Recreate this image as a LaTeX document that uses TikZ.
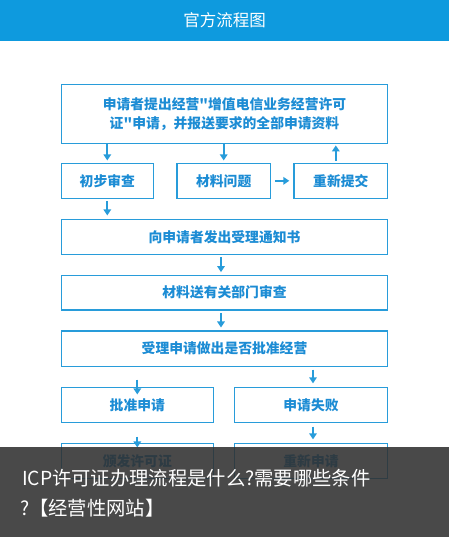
\documentclass[tikz,border=0pt]{standalone}
\usepackage{fontspec}
\setmainfont[Ligatures=TeXOff]{Noto Sans CJK SC}
\usetikzlibrary{arrows.meta}
\definecolor{hdr}{RGB}{14,154,222}
\definecolor{bx}{RGB}{40,156,218}
\definecolor{tx}{RGB}{28,140,212}
\definecolor{ov}{RGB}{48,48,48}
\begin{document}
\begin{tikzpicture}[x=1pt,y=-1pt,
 box/.style={draw=bx,line width=1.2pt,inner sep=0pt,text=tx,font=\fontsize{13.8}{19}\selectfont\bfseries,align=center},
 arr/.style={draw=bx,line width=1.8pt,-{Triangle[length=6pt,width=7.5pt]}},
 ovtext/.style={anchor=west,text=white,inner sep=0pt,font=\fontsize{19.3}{22}\selectfont}
]
\useasboundingbox (0,0) rectangle (449,537);
\fill[hdr] (0,0) rectangle (449,41);
\node[text=white,font=\fontsize{16.5}{20}\selectfont] (title) at (224.5,20) {官方流程图};

\node[box,minimum width=326.4pt,minimum height=59pt] (b1) at (224.5,113.8) {申请者提出经营"增值电信业务经营许可\\证"申请，并报送要求的全部申请资料};
\node[box,minimum width=92pt,minimum height=35pt] (a) at (107.3,180.8) {初步审查};
\node[box,minimum width=93.3pt,minimum height=35pt] (b) at (223.7,180.8) {材料问题};
\node[box,minimum width=93.7pt,minimum height=35pt] (c) at (340.8,180.8) {重新提交};
\node[box,minimum width=326.4pt,minimum height=35pt] (b3) at (224.5,236.8) {向申请者发出受理通知书};
\node[box,minimum width=326.4pt,minimum height=34.7pt] (b4) at (224.5,292.7) {材料送有关部门审查};
\node[box,minimum width=326.4pt,minimum height=35.3pt] (b5) at (224.5,348.7) {受理申请做出是否批准经营};
\node[box,minimum width=152pt,minimum height=35pt] (b6L) at (137.3,404.8) {批准申请};
\node[box,minimum width=153.4pt,minimum height=35pt] (b6R) at (311,404.8) {申请失败};
\node[box,minimum width=152pt,minimum height=35.4pt] (b7L) at (137.3,461) {颁发许可证};
\node[box,minimum width=153.4pt,minimum height=35.4pt] (b7R) at (311,461) {重新申请};

\draw[arr,shorten >=2.3pt] (b1.south -| a.north) -- (a.north);
\draw[arr,shorten >=2.3pt] (b1.south -| b.north) -- (b.north);
\draw[arr,shorten <=2pt,shorten >=1.5pt] ([xshift=-5pt]c.north) -- ([xshift=-5pt]c.north |- b1.south);
\draw[arr,shorten <=4pt,shorten >=4pt] (b.east) -- (c.west);
\draw[arr,shorten <=2.4pt,shorten >=3.3pt] (a.south) -- (a.south |- b3.north);
\draw[arr,shorten <=2.4pt,shorten >=2.6pt] ([xshift=-3.5pt]b3.south) -- ([xshift=-3.5pt]b4.north);
\draw[arr,shorten <=2.7pt,shorten >=3pt] ([xshift=-3.5pt]b4.south) -- ([xshift=-3.5pt]b5.north);
\draw[arr] ([yshift=-12.7pt]b5.south -| b6L.north) -- ([yshift=-7.7pt]b6L.north);
\draw[arr,shorten <=2.7pt,shorten >=3.3pt] ([xshift=2pt]b5.south -| b6R.north) -- ([xshift=2pt]b6R.north);
\draw[arr] ([yshift=-13.7pt]b6L.south) -- ([yshift=-4.7pt]b7L.north);
\draw[arr,shorten <=3.7pt,shorten >=3.3pt] ([xshift=2pt]b6R.south) -- ([xshift=2pt]b7R.north);

\fill[ov,opacity=0.88] (0,446.7) rectangle (449,537);
\node[ovtext] (cap1) at (22,478) {ICP许可证办理流程是什么?需要哪些条件};
\node[ovtext] (cap2) at (20,508) {?【经营性网站】};
\end{tikzpicture}
\end{document}
